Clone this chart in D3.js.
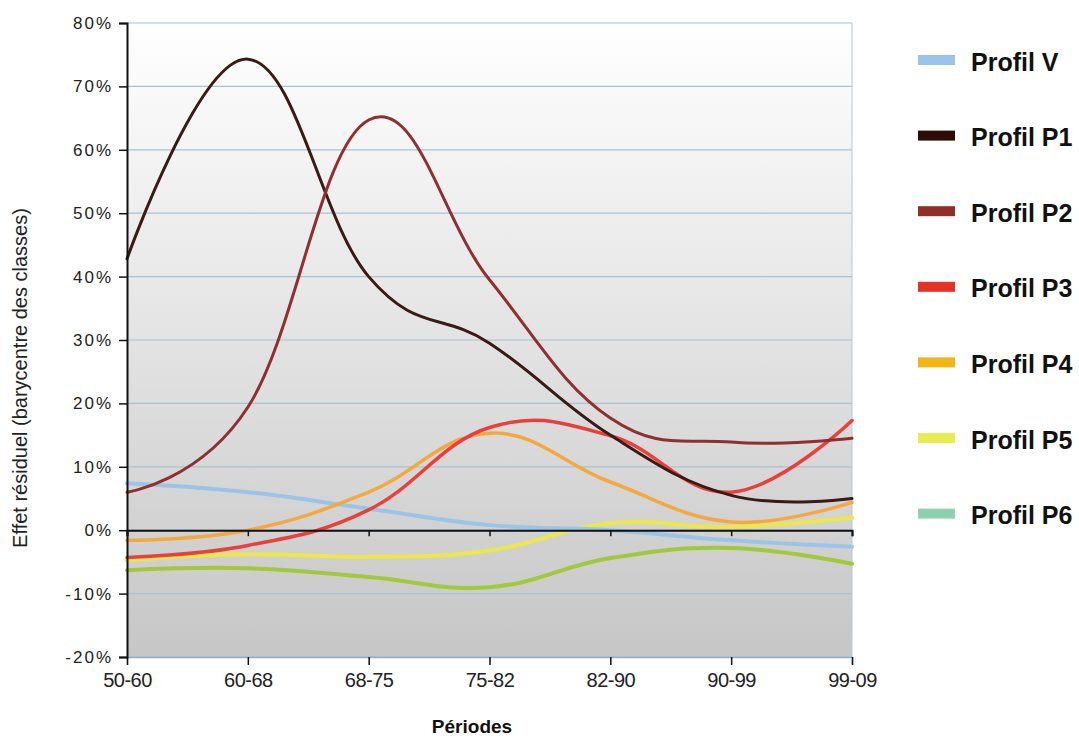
<!DOCTYPE html>
<html>
<head>
<meta charset="utf-8">
<script src="https://cdn.jsdelivr.net/npm/d3@7"></script>
<style>
  body { margin: 0; background: #fff; }
  text { font-family: "Liberation Sans", Arial, sans-serif; }
</style>
</head>
<body>
<script>
// periodes et ticks
var periodes = ["50-60", "60-68", "68-75", "75-82", "82-90", "90-99", "99-09"];
var yTicks = [-0.2, -0.1, 0, 0.1, 0.2, 0.3, 0.4, 0.5, 0.6, 0.7, 0.8];

// valeurs (effet résiduel)
var profilV  = [0.074, 0.060, 0.034, 0.008, 0.000, -0.016, -0.026];
var profilP1 = [0.428, 0.743, 0.400, 0.295, 0.150, 0.055, 0.050];
var profilP2 = [0.060, 0.194, 0.647, 0.395, 0.177, 0.139, 0.145];
var profilP3 = [-0.043, -0.024, 0.032, 0.162, 0.149, 0.060, 0.173];
var profilP4 = [-0.016, 0.000, 0.060, 0.153, 0.076, 0.013, 0.044];
var profilP5 = [-0.047, -0.038, -0.042, -0.032, 0.011, 0.005, 0.020];
var profilP6 = [-0.063, -0.060, -0.074, -0.090, -0.044, -0.028, -0.053];

var noms = ["Profil V", "Profil P1", "Profil P2", "Profil P3", "Profil P4", "Profil P5", "Profil P6"];
var series = [profilV, profilP1, profilP2, profilP3, profilP4, profilP5, profilP6];
var couleurs = ["#9cc4e8", "#3a1a14", "#8e3030", "#e8403a", "#f4a840", "#ece848", "#a2c83e"];
var couleursLegende = ["#9cc4e8", "#2e0c08", "#8e3028", "#e43226", "#f2b418", "#e8ec50", "#8ed0b4"];
var largeurs = [4, 3, 3, 3.5, 3.5, 4, 4];

var W = 1079, H = 738;
var margin = {left: 127, right: 1079 - 852, top: 23, bottom: 738 - 657};

var svg = d3.select("body").append("svg")
    .attr("width", W)
    .attr("height", H)
    .attr("viewBox", "0 0 " + W + " " + H);

var x = d3.scalePoint().domain(periodes).range([margin.left, W - margin.right]).padding(0);
var y = d3.scaleLinear().domain([-0.2, 0.8]).range([H - margin.bottom, margin.top]);

// fond en dégradé
var defs = svg.append("defs");
var grad = defs.append("linearGradient").attr("id", "fond")
    .attr("x1", 0).attr("y1", 0).attr("x2", 0).attr("y2", 1);
grad.append("stop").attr("offset", "0%").attr("stop-color", "#ffffff");
grad.append("stop").attr("offset", "45%").attr("stop-color", "#e6e6e6");
grad.append("stop").attr("offset", "100%").attr("stop-color", "#c6c6c6");

svg.append("rect")
    .attr("x", x(periodes[0]))
    .attr("y", y(0.8))
    .attr("width", x(periodes[periodes.length - 1]) - x(periodes[0]))
    .attr("height", y(-0.2) - y(0.8))
    .attr("fill", "url(#fond)");

// grille
svg.append("g").selectAll("line")
    .data(yTicks)
    .enter().append("line")
    .attr("x1", x(periodes[0]))
    .attr("x2", x(periodes[periodes.length - 1]))
    .attr("y1", function(d){ return y(d); })
    .attr("y2", function(d){ return y(d); })
    .attr("stroke", "#a9c2d2")
    .attr("stroke-width", 1.2);

svg.append("line")
    .attr("x1", x(periodes[periodes.length - 1])).attr("x2", x(periodes[periodes.length - 1]))
    .attr("y1", y(0.8)).attr("y2", y(-0.2))
    .attr("stroke", "#b8c8d4").attr("stroke-width", 1);

// courbes lissées
var ligne = d3.line()
    .x(function(d, i){ return x(periodes[i]); })
    .y(function(d){ return y(d); })
    .curve(d3.curveCardinal.tension(-0.2));

var ordre = [6, 5, 0, 4, 3, 1, 2];
ordre.forEach(function(k) {
    svg.append("path")
        .datum(series[k])
        .attr("d", ligne)
        .attr("fill", "none")
        .attr("stroke", couleurs[k])
        .attr("stroke-width", largeurs[k])
        .attr("stroke-linecap", "round");
});

// ligne du zéro avec graduations
var axeZero = d3.axisBottom(x).tickSize(6).tickFormat("");
svg.append("g")
    .attr("transform", "translate(0," + y(0) + ")")
    .call(axeZero)
    .call(function(g){
        g.select(".domain").attr("stroke", "#111").attr("stroke-width", 2);
        g.selectAll(".tick line").attr("stroke", "#111").attr("stroke-width", 1.5);
    });

// axe X en bas
var axeX = d3.axisBottom(x).tickSize(8).tickPadding(8);
svg.append("g")
    .attr("transform", "translate(0," + y(-0.2) + ")")
    .call(axeX)
    .call(function(g){
        g.select(".domain").attr("stroke", "#8fb0c4").attr("stroke-width", 1.5);
        g.selectAll(".tick line").attr("stroke", "#111").attr("stroke-width", 1.5);
        g.selectAll(".tick text")
            .attr("fill", "#222")
            .style("font-size", "20px")
            .style("letter-spacing", "-0.5px")
            .style("font-family", "'Liberation Sans', Arial, sans-serif");
    });

// axe Y
var axeY = d3.axisLeft(y).tickValues(yTicks).tickSize(8).tickPadding(6)
    .tickFormat(function(d){ return Math.round(d * 100) + "%"; });
svg.append("g")
    .attr("transform", "translate(" + x(periodes[0]) + ",0)")
    .call(axeY)
    .call(function(g){
        g.select(".domain").attr("stroke", "#111").attr("stroke-width", 2);
        g.selectAll(".tick line").attr("stroke", "#111").attr("stroke-width", 1.5);
        g.selectAll(".tick text")
            .attr("fill", "#222")
            .style("font-size", "17px")
            .style("letter-spacing", "2px")
            .style("font-family", "'Liberation Sans', Arial, sans-serif");
    });

// titres des axes
svg.append("text")
    .attr("transform", "translate(22," + 378 + ") rotate(-90)")
    .attr("text-anchor", "middle")
    .attr("dominant-baseline", "middle")
    .attr("fill", "#222")
    .style("font-size", "20px")
    .text("Effet résiduel (barycentre des classes)");

svg.append("text")
    .attr("x", 472)
    .attr("y", 733)
    .attr("text-anchor", "middle")
    .attr("fill", "#111")
    .style("font-size", "19px")
    .style("font-weight", "bold")
    .text("Périodes");

// légende
var leg = svg.append("g").selectAll("g")
    .data(noms)
    .enter().append("g")
    .attr("transform", function(d, i){ return "translate(0," + (64 + i * 75.6) + ")"; });

leg.append("rect")
    .attr("x", 918).attr("y", -9)
    .attr("width", 37).attr("height", 10)
    .attr("fill", function(d, i){ return couleursLegende[i]; });

leg.append("text")
    .attr("x", 971)
    .attr("y", 0)
    .attr("dominant-baseline", "middle")
    .attr("fill", "#111")
    .style("font-size", "25px")
    .style("font-weight", "bold")
    .text(function(d){ return d; });
</script>
</body>
</html>
